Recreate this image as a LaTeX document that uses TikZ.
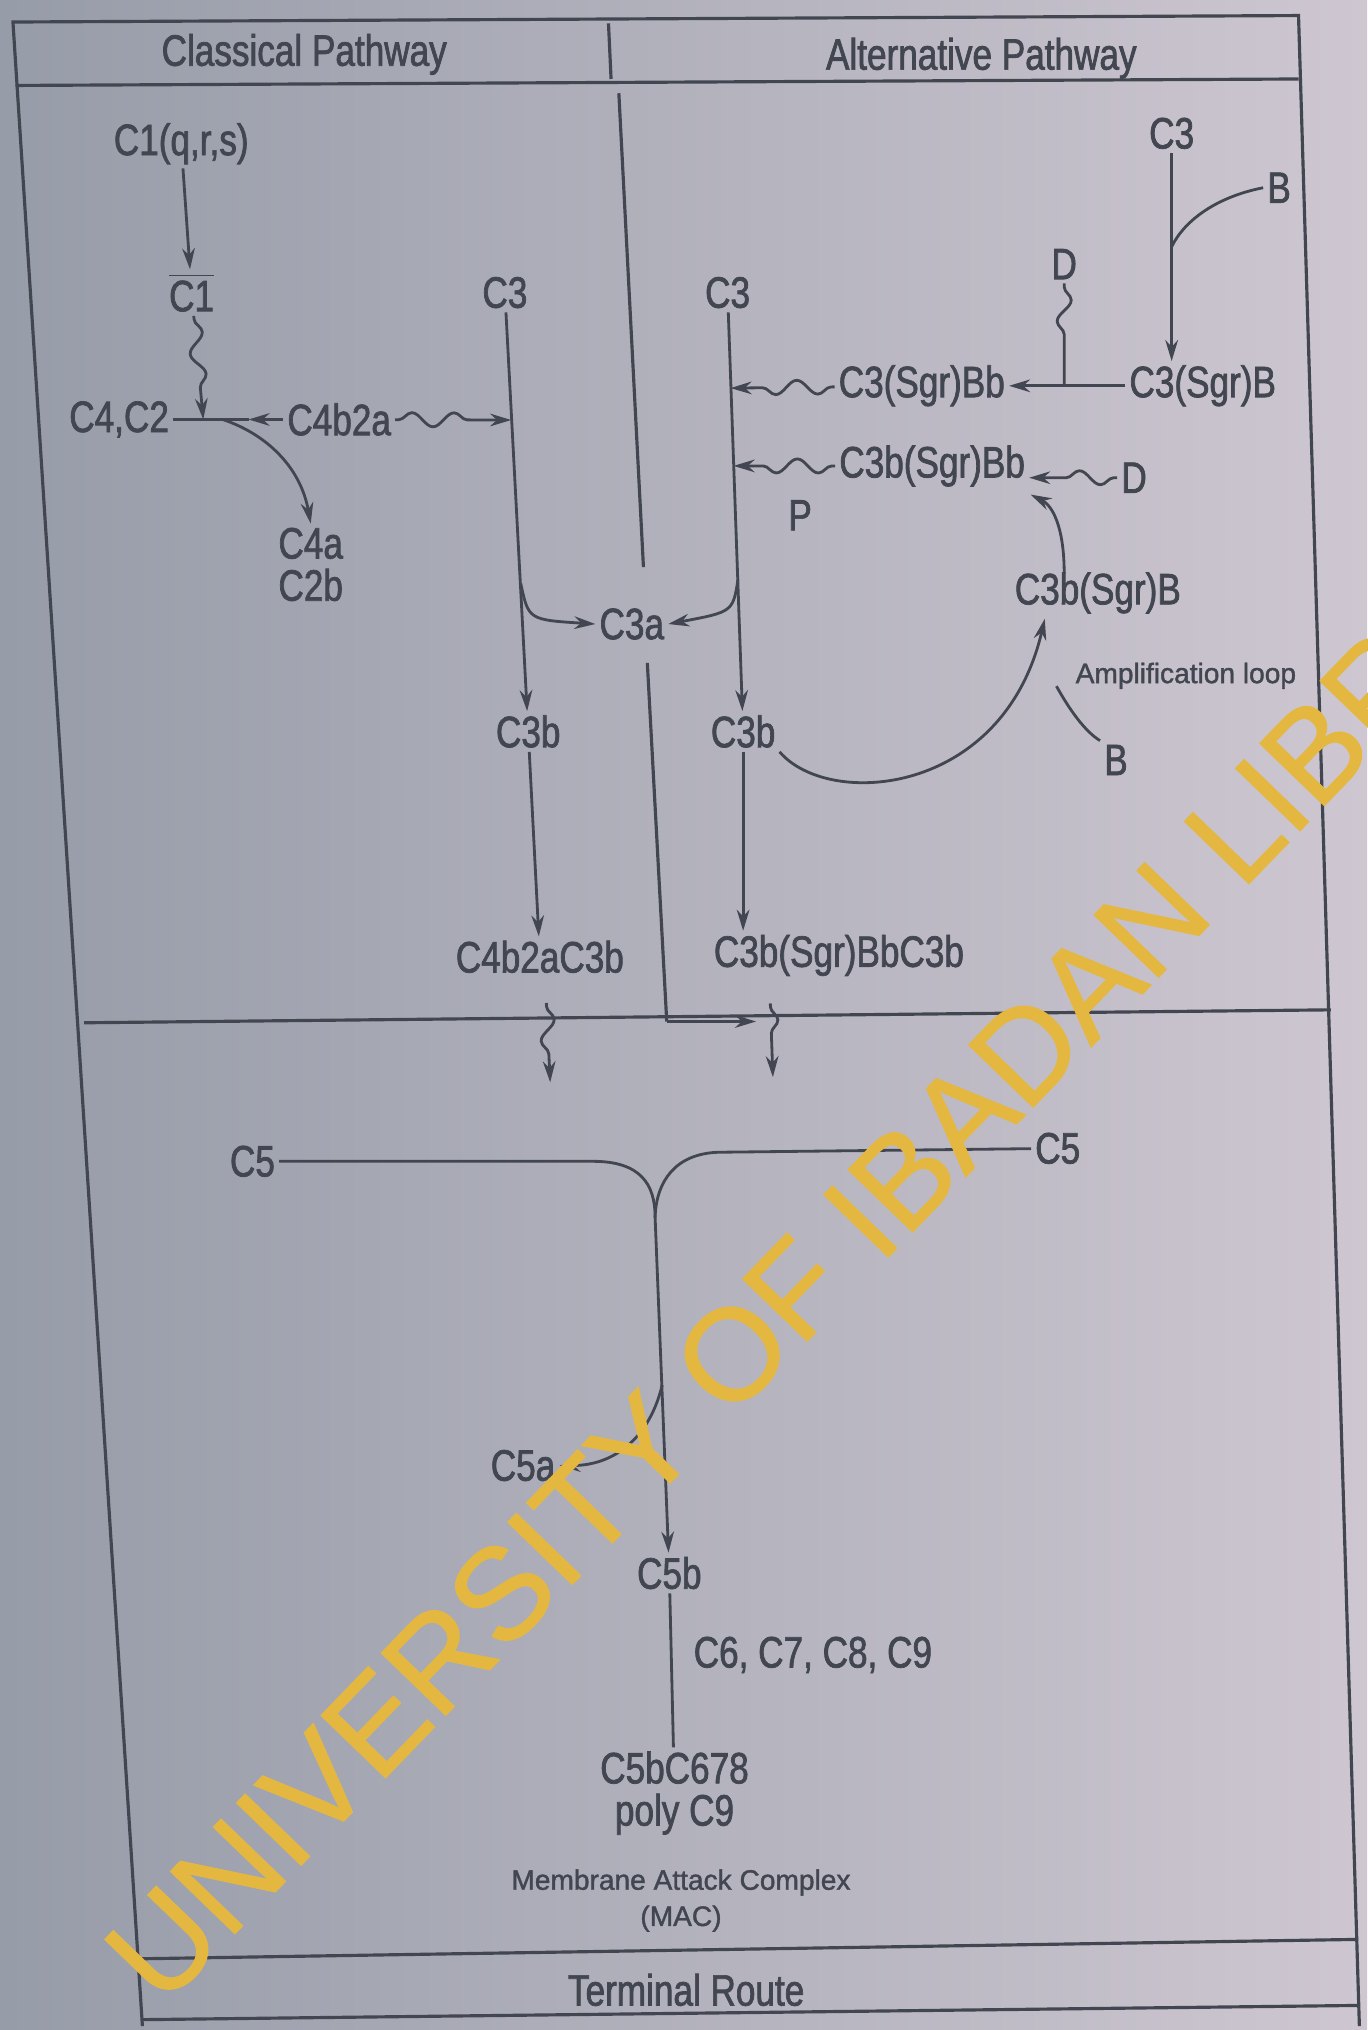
\documentclass[tikz,border=0pt]{standalone}
\usepackage{fontspec}
\setmainfont{Liberation Sans}[FakeStretch=0.8, FakeBold=1.6]
\newfontfamily\widesf{Liberation Sans}[FakeBold=1.4]
\newfontfamily\wmfont{Liberation Sans}[FakeBold=1]
\usepackage{tikz}
\usetikzlibrary{arrows.meta,calc,decorations.pathmorphing}
\definecolor{ink}{RGB}{66,70,80}
\definecolor{paperleft}{RGB}{150,156,168}
\definecolor{paperright}{RGB}{206,199,209}
\definecolor{wmyellow}{RGB}{228,184,64}

\begin{document}
\begin{tikzpicture}[
    x=0.12945mm, y=-0.12945mm,
    lbl/.style={font=\fontsize{12.5}{12}\selectfont, text=ink, inner sep=1pt, align=center},
    hdr/.style={font=\fontsize{12.5}{14}\selectfont, text=ink},
    note/.style={font=\widesf\fontsize{8}{10.3}\selectfont, text=ink, align=center},
    ln/.style={draw=ink, line width=0.8pt},
    arr/.style={ln, -{Stealth[length=6pt, width=3.6pt]}},
    wave/.style={decorate, decoration={snake, amplitude=2pt, segment length=12pt,
                 pre length=1pt, post length=7pt}},
    frame/.style={draw=ink, line width=0.9pt}
]
    \useasboundingbox (0,0) rectangle (1056,1568);
    \shade[left color=paperleft, right color=paperright] (0,0) rectangle (1056,1568);

    % frame
    \draw[frame] (110,1565) -- (10,17) -- (1003,12) -- (1050,1565);
    \draw[frame] (12,66) -- (1003,61);
    \draw[frame] (470,18) -- (472,61);
    \draw[frame] (65,790) -- (1028,780);
    \draw[frame] (107,1513) -- (1049,1498);
    \draw[frame] (110,1560) -- (1050,1549);
    \draw[frame] (478,72) -- (497,438);
    \draw[frame] (500,512) -- (515,789) coordinate (divb);

    % classical pathway
    \node[hdr] (classical) at (235,42) {Classical Pathway};
    \node[lbl] (c1qrs) at (140,111) {C1(q,r,s)};
    \node[lbl] (c1bar) at (148,226) {$\overline{\hbox{C1}}$};
    \node[lbl] (c4c2) at (92,324) {C4,C2};
    \node[lbl] (c4b2a) at (262,324) {C4b2a};
    \node[lbl] (c4a) at (240,436) {C4a\\C2b};
    \node[lbl] (c3l) at (390,226) {C3};
    \node[lbl] (c3bl) at (408,565) {C3b};
    \node[lbl] (c3a) at (488,482) {C3a};
    \node[lbl] (c4b2ac3b) at (417,739) {C4b2aC3b};

    \coordinate (j2) at (192,324);
    \coordinate (j1) at (157,324);
    \coordinate (jc) at (172,324);
    \coordinate (jl1) at ($(c3l.south)!0.27!(c3bl.north)$);
    \coordinate (jl2) at ($(c3l.south)!0.68!(c3bl.north)$);

    \draw[arr] (c1qrs) -- (c1bar);
    \draw[arr, wave] (c1bar) -- (j1);
    \draw[ln] (c4c2) -- (j2);
    \draw[arr] (c4b2a) -- (j2);
    \draw[arr] (jc) .. controls (205,335) and (232,360) .. (c4a.north);
    \draw[arr, wave] (c4b2a) -- (jl1);
    \draw[arr] (c3l) -- (c3bl);
    \draw[arr] (jl2) .. controls ($(jl2)+(6,28)$) .. (c3a.west);
    \draw[arr] (c3bl) -- (c4b2ac3b);

    % alternative pathway
    \node[hdr] (alternative) at (758,45) {Alternative Pathway};
    \node[lbl] (c3r) at (562,226) {C3};
    \node[lbl] (c3br) at (574,565) {C3b};
    \node[lbl] (c3top) at (905,103) {C3};
    \node[lbl] (btop) at (988,145) {B};
    \node[lbl] (dtop) at (822,204) {D};
    \node[lbl] (c3sgrb) at (929,298) {C3(Sgr)B};
    \node[lbl] (c3sgrbb) at (712,298) {C3(Sgr)Bb};
    \node[lbl] (c3bsgrbb) at (720,360) {C3b(Sgr)Bb};
    \node[lbl] (dlow) at (876,369) {D};
    \node[lbl] (p) at (618,398) {P};
    \node[lbl] (c3bsgrb) at (848,458) {C3b(Sgr)B};
    \node[note] (amp) at (916,522) {Amplification loop};
    \node[lbl] (blow) at (862,587) {B};
    \node[lbl] (c3bsgrbbc3b) at (648,738) {C3b(Sgr)BbC3b};

    \coordinate (jr1) at ($(c3r.south)!0.19!(c3br.north)$);
    \coordinate (jr2) at ($(c3r.south)!0.385!(c3br.north)$);
    \coordinate (jr3) at ($(c3r.south)!0.67!(c3br.north)$);
    \coordinate (jb) at ($(c3top.south)!0.45!(c3top.south |- c3sgrb.north)$);
    \coordinate (arcs) at (822,443);
    \coordinate (arce) at (796,382);
    \coordinate (loope) at (807,478);
    \coordinate (loopb) at (816,530);

    \draw[arr] (c3top) -- (c3top |- c3sgrb.north);
    \draw[ln] (btop.west) .. controls (940,152) and (915,170) .. (jb);
    \draw[ln, wave, decoration={post length=10pt}] (dtop) -- (dtop |- c3sgrb);
    \draw[arr] (c3sgrb) -- (c3sgrbb);
    \draw[arr, wave] (c3sgrbb) -- (jr1);
    \draw[arr, wave] (c3bsgrbb) -- (jr2);
    \draw[arr, wave] (dlow) -- (c3bsgrbb.east |- dlow);
    \draw[arr] (c3r) -- (c3br);
    \draw[arr] (jr3) .. controls ($(jr3)+(-4,25)$) .. (c3a.east);
    \draw[arr] (arcs) .. controls (822,405) and (812,390) .. (arce);
    \draw[arr] (c3br.south east) .. controls (640,625) and (775,615) .. (loope);
    \draw[ln] (blow.north west) .. controls (838,565) and (826,548) .. (loopb);
    \draw[arr] (c3br) -- (c3br |- c3bsgrbbc3b.north);

    % terminal route
    \coordinate (bl) at (425,836);
    \coordinate (br) at (597,832);
    \coordinate (brm) at (584,789);
    \draw[arr, wave] ($(c4b2ac3b.south)+(5,20)$) -- (bl);
    \draw[arr, wave] ($(c3bsgrbbc3b.south -| br)+(-2,18)$) -- (br);
    \draw[arr] (divb) -- (brm);

    \node[lbl] (c5l) at (195,897) {C5};
    \node[lbl] (c5r) at (817,887) {C5};
    \node[lbl] (c5b) at (517,1215) {C5b};
    \node[lbl] (c5a) at (404,1132) {C5a};
    \node[lbl] (mac) at (521,1385) {C5bC678\\poly C9};
    \node[note] (macname) at (526,1468) {Membrane Attack Complex\\(MAC)};
    \node[hdr] (terminal) at (530,1537) {Terminal Route};

    \coordinate (jc5) at (506,940);
    \coordinate (jc5a) at ($(jc5)!0.5!(c5b.north)$);
    \draw[ln] (c5l) -- (458,897) .. controls (495,897) and (506,915) .. (jc5);
    \draw[ln] (c5r) -- (555,890) .. controls (522,891) and (507,912) .. (jc5);
    \draw[arr] (jc5) -- (c5b);
    \draw[arr] (jc5a) .. controls (502,1110) and (475,1132) .. (c5a);
    \draw[ln] (c5b) -- node[lbl, pos=0.4, right=5pt] (c6c9) {C6, C7, C8, C9} (mac);

    \node[rotate=46, anchor=base west, text=wmyellow, inner sep=0pt,
          font=\wmfont\fontsize{37}{37}\selectfont] (watermark) at (125,1552) {UNIVERSITY OF IBADAN LIBR};
\end{tikzpicture}
\end{document}
